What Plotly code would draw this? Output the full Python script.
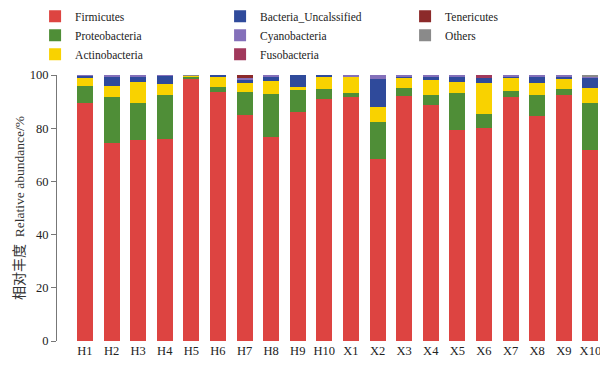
import plotly.graph_objects as go

samples = ["H1", "H2", "H3", "H4", "H5", "H6", "H7", "H8", "H9", "H10",
           "X1", "X2", "X3", "X4", "X5", "X6", "X7", "X8", "X9", "X10"]

firmicutes     = [89.5, 74.6, 75.5, 75.9, 98.8, 93.6, 85.1, 76.6, 86.0, 91.0,
                  91.6, 68.4, 92.1, 88.8, 79.4, 80.0, 91.6, 84.6, 92.3, 71.9]
proteobacteria = [6.3, 17.0, 14.1, 16.6, 0.6, 2.0, 8.5, 16.3, 8.4, 3.6,
                  1.5, 14.1, 2.9, 3.7, 13.7, 5.4, 2.5, 7.7, 2.3, 17.5]
actinobacteria = [3.1, 4.2, 7.7, 4.1, 0.4, 3.9, 3.4, 4.7, 1.0, 4.5,
                  6.3, 5.4, 4.1, 5.6, 4.4, 11.5, 5.0, 4.8, 3.9, 5.6]
bact_uncl      = [0.8, 3.7, 2.1, 3.1, 0.0, 0.5, 1.2, 1.8, 4.6, 0.9,
                  0.2, 10.6, 0.5, 1.3, 2.1, 1.9, 0.3, 2.0, 1.1, 3.8]
cyanobacteria  = [0.3, 0.5, 0.6, 0.3, 0.0, 0.0, 0.6, 0.6, 0.0, 0.0,
                  0.4, 1.5, 0.4, 0.6, 0.4, 0.0, 0.6, 0.9, 0.4, 0.8]
fusobacteria   = [0, 0, 0, 0, 0, 0, 0, 0, 0, 0,
                  0, 0, 0, 0, 0, 1.2, 0, 0, 0, 0]
tenericutes    = [0, 0, 0, 0, 0, 0, 1.2, 0, 0, 0,
                  0, 0, 0, 0, 0, 0, 0, 0, 0, 0]
others         = [0, 0, 0, 0, 0.2, 0, 0, 0, 0, 0,
                  0, 0, 0, 0, 0, 0, 0, 0, 0, 0.4]

series = [
    ("Firmicutes", firmicutes, "#DD4441", 1),
    ("Proteobacteria", proteobacteria, "#4F8E37", 4),
    ("Actinobacteria", actinobacteria, "#F9D200", 7),
    ("Bacteria_Uncalssified", bact_uncl, "#2F4A9B", 2),
    ("Cyanobacteria", cyanobacteria, "#8470BA", 5),
    ("Fusobacteria", fusobacteria, "#A1395C", 8),
    ("Tenericutes", tenericutes, "#8C2A2A", 3),
    ("Others", others, "#8A8A8A", 6),
]

fig = go.Figure()
for name, vals, color, rank in series:
    fig.add_trace(go.Bar(
        x=samples, y=vals, name=name, legendrank=rank,
        marker=dict(color=color, line=dict(width=0)),
    ))

# page body has an 8px default margin, so the figure is sized 8px smaller
fig.update_layout(
    barmode="stack",
    bargap=0.4,
    width=600, height=357,
    margin=dict(l=49, r=3, t=67, b=24, autoexpand=False),
    paper_bgcolor="white", plot_bgcolor="white",
    font=dict(family="Liberation Serif", size=13, color="#222"),
    legend=dict(
        orientation="h", x=-0.04, y=1.275, xanchor="left", yanchor="top",
        entrywidth=140, entrywidthmode="pixels",
        traceorder="normal",
        bgcolor="rgba(0,0,0,0)",
        font=dict(family="Liberation Serif", size=11.5, color="#222"),
        itemwidth=30, tracegroupgap=0,
    ),
    showlegend=True,
)
fig.update_xaxes(
    type="category", range=[-1.05, 19.55], automargin=False,
    showline=False, ticks="", showgrid=False,
    tickfont=dict(family="Liberation Serif", size=12.5, color="#222"),
)
fig.update_yaxes(
    range=[0, 100], tickvals=[0, 20, 40, 60, 80, 100], automargin=False,
    showline=True, linecolor="#777", linewidth=1,
    ticks="outside", ticklen=5, tickcolor="#777",
    showgrid=False, zeroline=False,
    tickfont=dict(family="Liberation Serif", size=12.5, color="#222"),
    title=dict(
        text="<span style='font-family:Noto Sans CJK SC;font-size:14px'>相对丰度</span>  Relative abundance/%",
        font=dict(family="Liberation Serif", size=13.5, color="#333"),
        standoff=14,
    ),
)

fig.write_html("out.html")
